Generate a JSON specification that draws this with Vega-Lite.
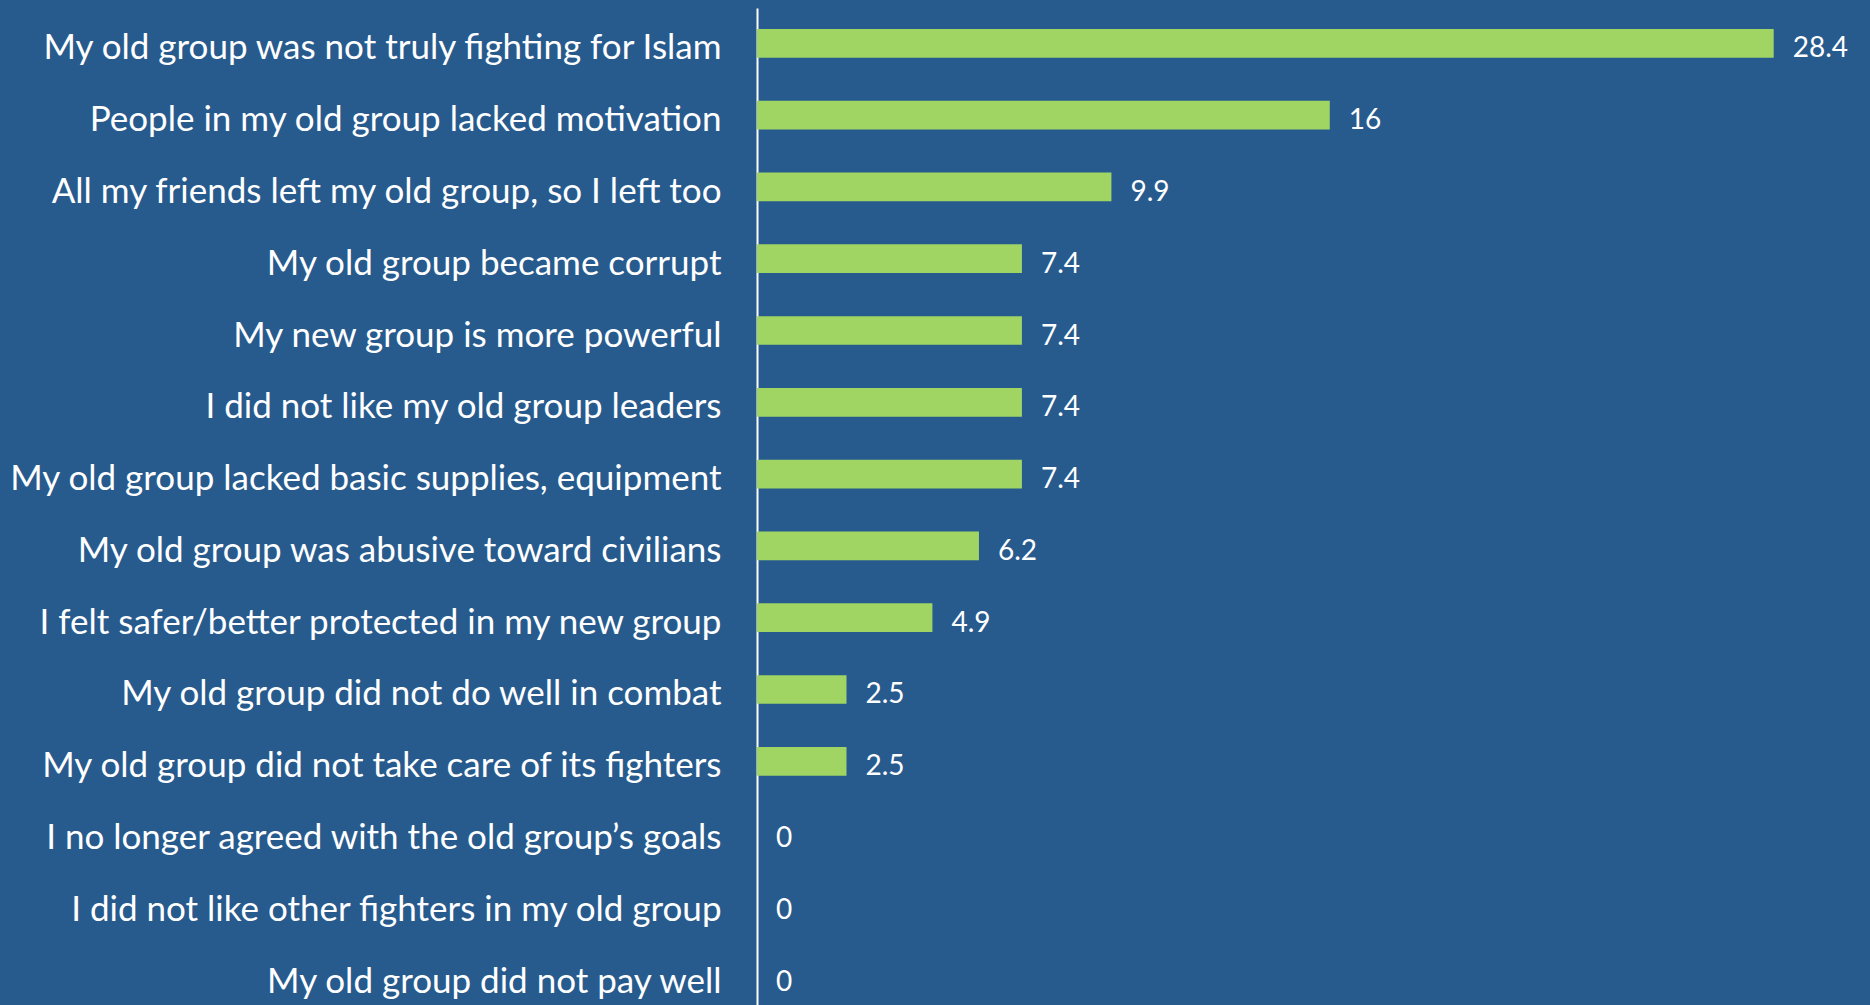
{
  "$schema": "https://vega.github.io/schema/vega-lite/v6.json",
  "autosize": "none",
  "width": 1113,
  "height": 1004,
  "padding": {"left": 757, "top": 8, "right": 0, "bottom": 0},
  "background": "#275B8E",
  "config": {"view": {"stroke": null}, "font": "Lato"},
  "data": {"values": [
    {"reason": "My old group was not truly fighting for Islam", "pct": 28.4},
    {"reason": "People in my old group lacked motivation\u2002", "pct": 16},
    {"reason": "All my friends left my old group, so I left too", "pct": 9.9},
    {"reason": "My old group became corrupt", "pct": 7.4},
    {"reason": "My new group is more powerful", "pct": 7.4},
    {"reason": "I did not like my old group leaders", "pct": 7.4},
    {"reason": "My old group lacked basic supplies, equipment", "pct": 7.4},
    {"reason": "My old group was abusive toward civilians", "pct": 6.2},
    {"reason": "I felt safer/better protected in my new group", "pct": 4.9},
    {"reason": "My old group did not do well in combat", "pct": 2.5},
    {"reason": "My old group did not take care of its fighters", "pct": 2.5},
    {"reason": "I no longer agreed with the old group\u2019s goals", "pct": 0},
    {"reason": "I did not like other fighters in my old group", "pct": 0},
    {"reason": "My old group did not pay well", "pct": 0}
  ]},
  "encoding": {
    "y": {
      "field": "reason", "type": "nominal", "sort": null, "title": null,
      "scale": {"paddingInner": 0.6, "paddingOuter": 0.2917},
      "axis": {
        "ticks": false, "tickSize": 0, "labelPadding": 36, "labelLimit": 900,
        "labelFontSize": 35, "labelColor": "#FFFFFF", "labelFont": "Lato",
        "labelOffset": 5,
        "domainColor": "#FFFFFF", "domainWidth": 2, "grid": false
      }
    },
    "x": {
      "field": "pct", "type": "quantitative", "title": null,
      "scale": {"domain": [0, 31.09], "nice": false, "zero": true},
      "axis": null
    }
  },
  "layer": [
    {"mark": {"type": "bar", "color": "#A0D563"}},
    {"mark": {"type": "text", "align": "left", "baseline": "middle", "dx": 19, "dy": 6, "fontSize": 28, "color": "#FFFFFF", "font": "Lato"},
     "encoding": {"text": {"field": "pct", "type": "quantitative"}}}
  ]
}
